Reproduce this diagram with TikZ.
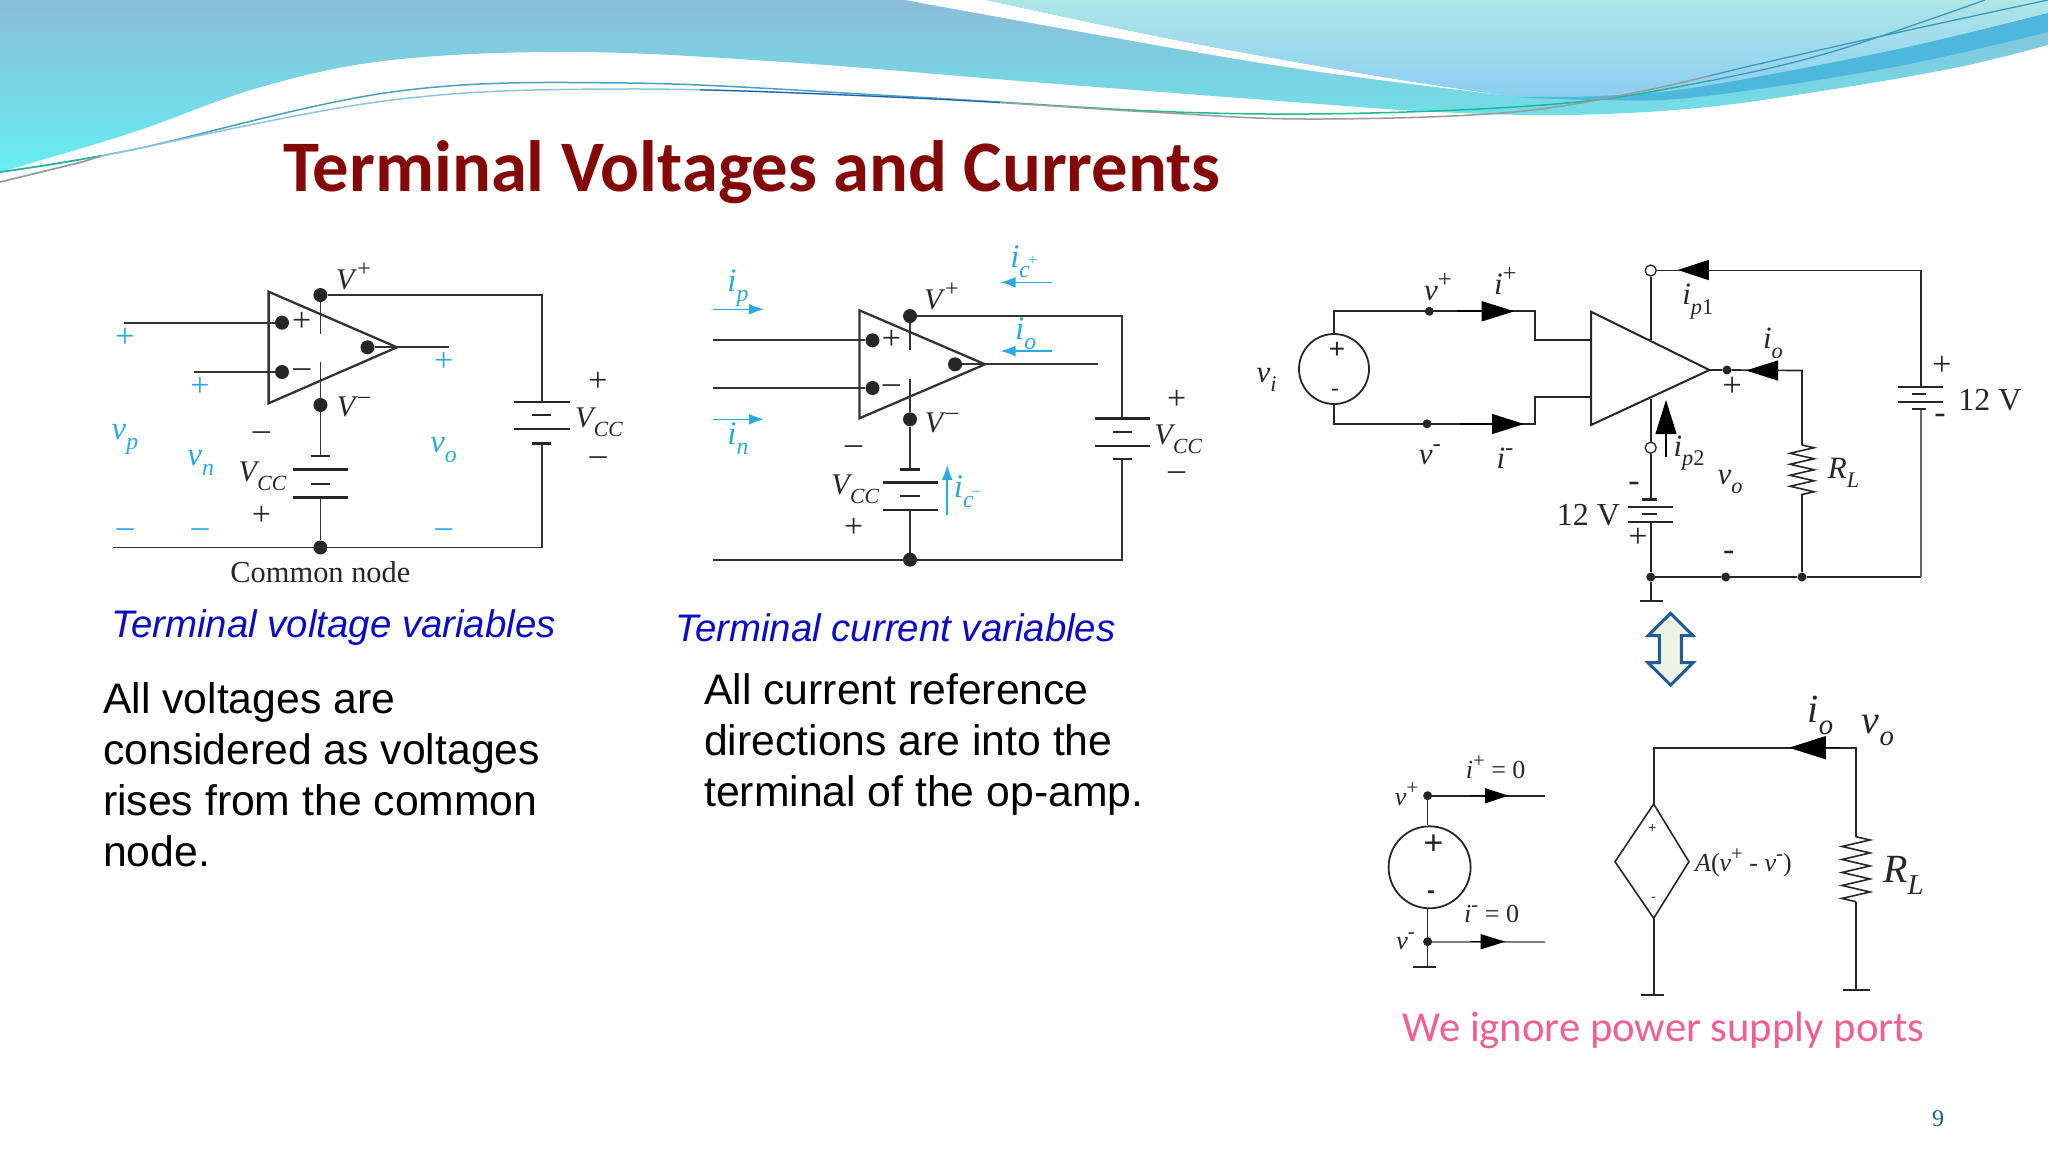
\documentclass[tikz,border=0pt]{standalone}
\usepackage{fontspec}
\usepackage{graphicx}
\usetikzlibrary{arrows.meta,decorations.pathmorphing}
\setmainfont{Liberation Serif}
\newfontfamily\arialf{Liberation Sans}
\newfontfamily\calib{Carlito}
\definecolor{wire}{HTML}{333333}
\definecolor{ablue}{HTML}{29ABE2}
\definecolor{titlered}{HTML}{850808}
\definecolor{capblue}{HTML}{0A0AC8}
\definecolor{pinktxt}{HTML}{F0608F}
\definecolor{bana}{HTML}{8ABDD8}
\definecolor{banb}{HTML}{66EEF0}
\definecolor{palea}{HTML}{AEE6E6}
\definecolor{paleb}{HTML}{8CCEF2}
\definecolor{bandc}{HTML}{4DB8DC}
\definecolor{lna}{HTML}{4A9FC0}
\definecolor{lnb}{HTML}{8CC4DC}
\definecolor{lnc}{HTML}{1E5FA8}
\definecolor{lnd}{HTML}{9A9A9A}
\definecolor{lne}{HTML}{1DB89A}
\definecolor{lnf}{HTML}{3A9AB5}
\definecolor{dblb}{HTML}{1F5C99}
\definecolor{dblf}{HTML}{EEF4E4}
\definecolor{pgc}{HTML}{1F6080}
\newcommand{\SB}[1]{\raisebox{-0.3em}{\scalebox{0.72}{#1}}}
\newcommand{\SP}[1]{\raisebox{0.42em}{\scalebox{0.8}{#1}}}
\newcommand{\Vcc}{\textit{V}\kern-.08em\SB{\textit{CC}}}
\newcommand{\lineA}{(0,172) (131,150) (392,92) (627,83) (914,97) (1176,112) (1371,113) (1567,103) (1698,83) (1828,53) (1985,0)}
\newcommand{\lineB}{(0,182) (78,163) (131,150) (392,100) (627,89) (914,98) (1150,112) (1306,119) (1502,113) (1633,93) (1763,63) (1900,32) (2048,0)}
\tikzset{
 wr/.style={draw=wire,line width=1.7pt},
 plate/.style={draw=black!85,line width=2.4pt},
 jdot/.style={circle,fill=black!85,inner sep=0pt,minimum size=14pt},
 sdot/.style={circle,fill=black!85,inner sep=0pt,minimum size=9pt},
 odot/.style={circle,draw=black!85,fill=white,line width=1.3pt,inner sep=0pt,minimum size=11pt},
 lab/.style={inner sep=0pt,font=\fontsize{30}{34}\selectfont,text=black!85},
 rlab/.style={inner sep=0pt,font=\fontsize{31}{34}\selectfont,text=black!85},
 blab/.style={inner sep=0pt,font=\fontsize{33}{36}\selectfont,text=ablue},
 sign/.style={inner sep=0pt,font=\fontsize{34}{36}\selectfont,text=black!85},
 bsign/.style={inner sep=0pt,font=\fontsize{34}{36}\selectfont,text=ablue},
 barrow/.style={draw=ablue,line width=1.6pt,-{Latex[length=15pt,width=11pt]}},
 barb/.style={draw=black,line width=1.4pt,-{Triangle[length=#1,width=20pt]}},
 barb/.default=32pt,
 rz/.style={draw=black!85,line width=1.6pt,decorate,decoration={zigzag,segment length=11pt,amplitude=12pt}},
 capt/.style={inner sep=0pt,anchor=west,text=capblue,font=\arialf\itshape\fontsize{38.4}{44}\selectfont},
 body/.style={inner sep=0pt,anchor=west,align=left,text=black,font=\arialf\fontsize{42.7}{51}\selectfont},
}
\begin{document}
\begin{tikzpicture}[x=1pt,y=-1pt]
\useasboundingbox (0,0) rectangle (2048,1152);
% ---------- banner ----------
\shade[top color=bana,bottom color=banb] (0,0) -- (2048,0) -- (2048,45)
  -- plot[smooth,tension=.6] coordinates {(2048,45) (1959,67) (1828,90) (1698,108) (1567,115) (1437,112) (1306,103) (1045,83) (784,62) (575,52) (392,60) (261,87) (131,133) (0,172)} -- cycle;
\fill[white] (905,0) -- plot[smooth,tension=.6] coordinates {(905,0) (1110,37) (1306,70) (1502,95)} -- plot[smooth,tension=.6] coordinates {(1502,95) (1371,75) (1176,40) (986,0)} -- cycle;
\shade[top color=palea,bottom color=paleb] (986,0) -- (2048,0) -- (2048,13) -- plot[smooth,tension=.6] coordinates {(2048,13) (1894,50) (1698,87) (1600,96) (1502,95)} -- plot[smooth,tension=.6] coordinates {(1502,95) (1371,75) (1176,40) (986,0)} -- cycle;
\fill[color=bandc] (2048,13) -- plot[smooth,tension=.6] coordinates {(2048,13) (1894,50) (1698,87) (1600,96) (1515,97)} -- plot[smooth,tension=.6] coordinates {(1515,97) (1600,100) (1698,97) (1894,67) (2048,32)} -- cycle;
\begin{scope}\clip (0,0) rectangle (1000,200);
\draw[color=lna,line width=1.5pt] plot[smooth,tension=.6] coordinates {\lineA};
\draw[color=lnb,line width=1.5pt] plot[smooth,tension=.6] coordinates {\lineB};
\end{scope}
\begin{scope}\clip (700,0) rectangle (1000,200);
\draw[color=lnc,line width=1.2pt] plot[smooth,tension=.6] coordinates {\lineB};
\end{scope}
\begin{scope}\clip (1000,0) rectangle (1710,200);
\draw[color=lne,line width=1.5pt] plot[smooth,tension=.6] coordinates {\lineA};
\draw[color=lnd,line width=1.5pt] plot[smooth,tension=.6] coordinates {\lineB};
\end{scope}
\begin{scope}\clip (1710,0) rectangle (2048,200);
\draw[color=lnf,line width=1.3pt] plot[smooth,tension=.6] coordinates {\lineA};
\draw[color=lnf,line width=1.3pt] plot[smooth,tension=.6] coordinates {\lineB};
\end{scope}
\begin{scope}\clip (0,150) rectangle (100,200);
\draw[color=lne,line width=1.5pt] plot[smooth,tension=.6] coordinates {\lineA};
\draw[color=lnd,line width=1.5pt] plot[smooth,tension=.6] coordinates {\lineB};
\end{scope}
% ---------- title ----------
\node[inner sep=0pt,anchor=west,text=titlered,font=\calib\bfseries\fontsize{72.6}{78}\selectfont] (title) at (283,172) {Terminal Voltages and Currents};
% ---------- left circuit ----------
\coordinate (la) at (268.6,291.7); \coordinate (lb) at (268.6,403.3); \coordinate (lc) at (397,347.3);
\draw[draw=wire,line width=2.3pt,line join=miter] (la) -- (lc) -- (lb) -- cycle;
\node[jdot] (lvp) at (320.4,295) {};
\node[jdot] (lvm) at (320.4,405) {};
\node[jdot] (lcom) at (320.4,547.5) {};
\node[jdot] (lip) at (282,322.7) {};
\node[jdot] (lin) at (282,372) {};
\node[jdot] (lout) at (367.5,347.3) {};
\coordinate (lwtr) at (541.8,295); \coordinate (lbt) at (541.8,401.7); \coordinate (lbb) at (541.8,443.3); \coordinate (lwbr) at (541.8,547.5);
\coordinate (lwbl) at (113,547.5); \coordinate (lipe) at (124,322.7); \coordinate (line) at (193.6,372); \coordinate (loe) at (449,347.3);
\coordinate (ls1) at (320.4,334.3); \coordinate (ls2) at (320.4,361.7); \coordinate (lv1) at (320.4,455.7); \coordinate (lv2) at (320.4,497.3);
\draw[wr] (lvp) -- (lwtr) -- (lbt);
\draw[wr] (lbb) -- (lwbr) -- (lwbl);
\draw[wr] (lipe) -- (lip);
\draw[wr] (line) -- (lin);
\draw[wr] (lout) -- (loe);
\draw[wr] (lvp) -- (ls1);
\draw[wr] (ls2) -- (lvm);
\draw[wr] (lvm) -- (lv1);
\draw[wr] (lv2) -- (lcom);
\draw[plate] (514,401.7) -- (570,401.7); \draw[plate] (532,415) -- (551,415); \draw[plate] (514,428.7) -- (570,428.7); \draw[plate] (532,443.3) -- (551,443.3);
\draw[plate] (310.7,455.7) -- (330.4,455.7); \draw[plate] (292.5,469.3) -- (348,469.3); \draw[plate] (310.7,484) -- (330.4,484); \draw[plate] (292.5,497.3) -- (348,497.3);
\node[sign] (l1) at (301.8,321.7) {+}; \node[sign] (l2) at (301.8,372.7) {–};
\node[lab] (l3) at (353.6,276.7) {\textit{V}\SP{+}};
\node[lab] (l4) at (353.6,406.7) {\textit{V}\SP{–}};
\node[sign] (l5) at (598,382.3) {+}; \node[lab] (l6) at (599,422.7) {\Vcc}; \node[sign] (l7) at (598,461) {–};
\node[sign] (l8) at (261.4,435.7) {–}; \node[lab] (l9) at (262.5,476.7) {\Vcc}; \node[sign] (l10) at (261.4,515.7) {+};
\node[lab,font=\fontsize{30.4}{33}\selectfont] (l11) at (320.4,571.7) {Common node};
\node[bsign] (l12) at (125,338.3) {+}; \node[bsign] (l13) at (200,387.3) {+}; \node[bsign] (l14) at (443.6,362.3) {+};
\node[blab] (l15) at (125,439) {\textit{v}\SB{\textit{p}}}; \node[blab] (l16) at (200.7,462.7) {\textit{v}\SB{\textit{n}}}; \node[blab] (l17) at (443.6,450) {\textit{v}\SB{\textit{o}}};
\node[bsign] (l18) at (125,532.7) {–}; \node[bsign] (l19) at (200,532.7) {–}; \node[bsign] (l20) at (443.6,532.7) {–};
% ---------- middle circuit ----------
\coordinate (ma) at (859.4,310.3); \coordinate (mb) at (859.4,418.3); \coordinate (mc) at (985,364.3);
\draw[draw=wire,line width=2.3pt,line join=miter] (ma) -- (mc) -- (mb) -- cycle;
\node[jdot] (mvp) at (910,316) {};
\node[jdot] (mvm) at (910,419.3) {};
\node[jdot] (mcom) at (910,559.7) {};
\node[jdot] (mip) at (872.5,340.3) {};
\node[jdot] (min) at (872.5,388) {};
\node[jdot] (mout) at (955,364.3) {};
\coordinate (mwtr) at (1122,316); \coordinate (mbt) at (1122,418.3); \coordinate (mbb) at (1122,459); \coordinate (mwbr) at (1122,559.7);
\coordinate (mwbl) at (713.4,559.7); \coordinate (mipe) at (713.4,340.3); \coordinate (mine) at (713.4,388); \coordinate (moe) at (1098,364.3);
\coordinate (ms1) at (910,350); \coordinate (ms2) at (910,378.7); \coordinate (mv1) at (910,469.3); \coordinate (mv2) at (910,509.7);
\draw[wr] (mvp) -- (mwtr) -- (mbt);
\draw[wr] (mbb) -- (mwbr) -- (mwbl);
\draw[wr] (mipe) -- (mip);
\draw[wr] (mine) -- (min);
\draw[wr] (mout) -- (moe);
\draw[wr] (mvp) -- (ms1);
\draw[wr] (ms2) -- (mvm);
\draw[wr] (mvm) -- (mv1);
\draw[wr] (mv2) -- (mcom);
\draw[plate] (1094.6,418.3) -- (1150.4,418.3); \draw[plate] (1112.9,431.7) -- (1131.8,431.7); \draw[plate] (1094.6,446) -- (1150.4,446); \draw[plate] (1112.9,459) -- (1131.8,459);
\draw[plate] (900,469.3) -- (919.7,469.3); \draw[plate] (883.2,482.3) -- (938,482.3); \draw[plate] (900,495.7) -- (919.7,495.7); \draw[plate] (883.2,509.7) -- (938,509.7);
\node[sign] (m1) at (891.4,340) {+}; \node[sign] (m2) at (891.4,389) {–};
\node[lab] (m3) at (941.4,296.7) {\textit{V}\SP{+}};
\node[lab] (m4) at (941.4,422.7) {\textit{V}\SP{–}};
\node[sign] (m5) at (1176.6,400) {+}; \node[lab] (m6) at (1178.3,439.3) {\Vcc}; \node[sign] (m7) at (1176.6,476) {–};
\node[sign] (m8) at (853.6,450) {–}; \node[lab] (m9) at (855.3,489.3) {\Vcc}; \node[sign] (m10) at (853.6,527.7) {+};
\coordinate (ar1a) at (713.4,309.3); \coordinate (ar1b) at (764,309.3);
\coordinate (ar2a) at (713.4,419.3); \coordinate (ar2b) at (764,419.3);
\coordinate (ar3a) at (1051.6,282.3); \coordinate (ar3b) at (1000.6,282.3);
\coordinate (ar4a) at (1051.6,351); \coordinate (ar4b) at (1000.6,351);
\coordinate (ar5a) at (947.2,515); \coordinate (ar5b) at (947.2,465);
\draw[barrow] (ar1a) -- (ar1b); \draw[barrow] (ar2a) -- (ar2b); \draw[barrow] (ar3a) -- (ar3b); \draw[barrow] (ar4a) -- (ar4b); \draw[barrow] (ar5a) -- (ar5b);
\node[blab] (m11) at (738,288.3) {\textit{i}\SB{\textit{p}}};
\node[blab] (m12) at (738,438.3) {\textit{i}\SB{\textit{n}}};
\node[blab] (m13) at (1024,261.7) {\textit{i}\SB{\textit{c}}\kern-.05em\raisebox{.05em}{\scalebox{.5}{+}}};
\node[blab] (m14) at (1025.7,333.3) {\textit{i}\SB{\textit{o}}};
\node[blab] (m15) at (967,491.7) {\textit{i}\SB{\textit{c}}\kern-.05em\raisebox{.05em}{\scalebox{.5}{–}}};
% ---------- captions and body ----------
\node[capt] (c1) at (111,628) {Terminal voltage variables};
\node[capt] (c2) at (675,628) {Terminal current variables};
\node[body] (b1) at (103,775) {All voltages are\\considered as voltages\\rises from the common\\node.};
\node[body] (b2) at (704,744.5) {All current reference\\directions are into the\\terminal of the op-amp.};
% ---------- right circuit ----------
\coordinate (ra) at (1591,311.7); \coordinate (rb) at (1591,425); \coordinate (rc) at (1709.5,370);
\draw[draw=black!85,line width=2pt,line join=miter] (ra) -- (rc) -- (rb) -- cycle;
\node[circle,draw=black!85,line width=1.8pt,inner sep=0pt,minimum size=70pt] (src) at (1334,369) {};
\node[sdot] (rvp) at (1429.3,311.3) {};
\node[sdot] (rvm) at (1427,423.8) {};
\coordinate (rtl) at (1334,311.3); \coordinate (rt1) at (1535,311.3); \coordinate (rt2) at (1535,340); \coordinate (rt3) at (1591,340);
\coordinate (rbl) at (1334,424); \coordinate (rb1) at (1535,424); \coordinate (rb2) at (1535,397.3); \coordinate (rb3) at (1591,397.3);
\draw[wr,draw=black!85] (src.north) -- (rtl) -- (rt1) -- (rt2) -- (rt3);
\draw[wr,draw=black!85] (src.south) -- (rbl) -- (rb1) -- (rb2) -- (rb3);
\coordinate (ai1a) at (1457,311.3); \coordinate (ai1b) at (1514.5,311.3);
\coordinate (ai2a) at (1460,424); \coordinate (ai2b) at (1524,424);
\draw[barb=33pt,line width=2.2pt] (ai1a) -- (ai1b);
\draw[barb=32pt] (ai2a) -- (ai2b);
\node[odot] (rtop) at (1650.7,270.5) {};
\node[odot] (rlow) at (1650.7,447.7) {};
\node[sdot] (rout) at (1727,370) {};
\node[sdot] (rg1) at (1650.7,577) {};
\node[sdot] (rg2) at (1725.7,577) {};
\node[sdot] (rg3) at (1802,577) {};
\coordinate (rtop2) at (1650.7,340); \coordinate (rlow2) at (1650.7,399.3);
\coordinate (rcr) at (1921,269.3); \coordinate (rbat1) at (1921,386.7); \coordinate (rbat2) at (1921,409); \coordinate (rcrb) at (1921,577);
\coordinate (rol) at (1802,370.5); \coordinate (rr1) at (1802,445); \coordinate (rr2) at (1802,498);
\coordinate (rbt) at (1650.7,499.3); \coordinate (rbb) at (1650.7,521.7); \coordinate (rgnd) at (1650.7,601);
\draw[wr,draw=black!85] (rtop) -- (rtop2);
\draw[wr,draw=black!85] (rlow2) -- (rlow);
\draw[wr,draw=black!85] (rlow) -- (rbt);
\draw[wr,draw=black!85] (rbb) -- (rg1);
\draw[wr,draw=black!85] (rg1) -- (rgnd);
\draw[wr,draw=black!85] (rtop) -- (rtop -| rcr) -- (rbat1);
\draw[wr,draw=black!85] (rc) -- (rout) -- (rol) -- (rr1);
\draw[rz] (rr1) -- (rr2);
\draw[wr,draw=black!85] (rr2) -- (rg3);
\draw[wr,draw=black!85] (rg1) -- (rg2) -- (rg3) -- (rcrb);
\draw[wr,draw=black!60] (rcrb) -- (rbat2);
\draw[plate,line width=1.8pt] (1639.5,601) -- (1662.5,601);
\coordinate (ai3a) at (1708,270); \coordinate (ai3b) at (1677.8,270);
\coordinate (ai4a) at (1778,370.5); \coordinate (ai4b) at (1746,370.5);
\coordinate (ai5a) at (1666,456.7); \coordinate (ai5b) at (1666,400);
\draw[barb=31pt] (ai3a) -- (ai3b);
\draw[barb=32pt] (ai4a) -- (ai4b);
\draw[draw=black,line width=1.2pt,-{Triangle[length=34pt,width=21pt]}] (ai5a) -- (ai5b);
\draw[plate] (1898,386.7) -- (1943,386.7); \draw[plate] (1912.4,394) -- (1926,394); \draw[plate] (1898,402) -- (1943,402); \draw[plate] (1912.4,409) -- (1926,409);
\draw[plate] (1642,499.3) -- (1657.3,499.3); \draw[plate] (1627.8,506.7) -- (1672.7,506.7); \draw[plate] (1642,514) -- (1657.3,514); \draw[plate] (1627.8,521.7) -- (1672.7,521.7);
\node[rlab] (r1) at (1266.5,380) {\textit{v}\SB{\textit{i}}};
\node[rlab] (r2) at (1438,286.7) {\textit{v}\SP{+}};
\node[rlab] (r3) at (1505.3,280.7) {\textit{i}\SP{+}};
\node[rlab] (r4) at (1429.8,455) {\textit{v}\SP{-}};
\node[rlab] (r5) at (1505,458.3) {\textit{i}\SP{-}};
\node[rlab] (r6) at (1697.7,301.7) {\textit{i}\SB{\textit{p}1}};
\node[rlab] (r7) at (1773,343.3) {\textit{i}\SB{\textit{o}}};
\node[sign] (r8) at (1732.3,387.3) {+};
\node[rlab] (r9) at (1689,453.3) {\textit{i}\SB{\textit{p}2}};
\node[rlab] (r10) at (1730,481.7) {\textit{v}\SB{\textit{o}}};
\node[rlab] (r11) at (1843.6,472.7) {\textit{R}\SB{\textit{L}}};
\node[sign] (r12) at (1942,366) {+};
\node[rlab,font=\fontsize{32}{34}\selectfont] (r13) at (1990,400) {12 V};
\node[sign] (r14) at (1940,419.3) {-};
\node[sign] (r15) at (1634,486.7) {-};
\node[rlab,font=\fontsize{32}{34}\selectfont] (r16) at (1588.5,515) {12 V};
\node[sign] (r17) at (1638,537.7) {+};
\node[sign] (r18) at (1728.8,556) {-};
\node[sign,font=\arialf\fontsize{28}{30}\selectfont] (r19) at (1337,350) {+};
\node[sign,font=\arialf\fontsize{24}{28}\selectfont] (r20) at (1335,392.7) {-};
% double arrow
\draw[draw=dblb,fill=dblf,line width=3pt,line join=miter] (1670.6,613.3) -- (1693,635.7) -- (1681.3,635.7) -- (1681.3,662.7) -- (1693,662.7) -- (1670.6,685) -- (1648,662.7) -- (1659.4,662.7) -- (1659.4,635.7) -- (1648,635.7) -- cycle;
% ---------- bottom circuit ----------
\node[sdot] (bvp) at (1427.6,795.7) {};
\node[sdot] (bvm) at (1427.6,941.7) {};
\node[circle,draw=black!85,line width=1.8pt,inner sep=0pt,minimum size=82pt] (bsrc) at (1429.6,867.3) {};
\coordinate (bpe) at (1545,795.7); \coordinate (bme) at (1545,941.7); \coordinate (bgn) at (1427.6,966.7);
\draw[wr,draw=black!85] (bvp) -- (bpe);
\draw[wr,draw=black!50,line width=2.2pt] (bvm) -- (bme);
\draw[wr,draw=black!85] (bvp) -- (bvp |- bsrc.north);
\draw[wr,draw=black!85] (bvm |- bsrc.south) -- (bvm);
\draw[wr,draw=black!85] (bvm) -- (bgn);
\draw[plate,line width=1.6pt] (1413.4,966.7) -- (1436.3,966.7);
\coordinate (ab1a) at (1470,795.7); \coordinate (ab1b) at (1508.2,795.7);
\coordinate (ab2a) at (1470,941.7); \coordinate (ab2b) at (1505.5,941.7);
\draw[draw=black,line width=1.4pt,-{Triangle[length=23pt,width=15pt]}] (ab1a) -- (ab1b);
\draw[draw=black,line width=1.4pt,-{Triangle[length=25pt,width=15pt]}] (ab2a) -- (ab2b);
\coordinate (dt) at (1653.7,804); \coordinate (dr) at (1688.9,861.7); \coordinate (db) at (1653.7,918.3); \coordinate (dl) at (1615,861.7);
\draw[draw=black!85,line width=1.6pt] (dt) -- (dr) -- (db) -- (dl) -- cycle;
\coordinate (bc1) at (1653.7,747.7); \coordinate (bc2) at (1856,747.7); \coordinate (br1) at (1856,836.7); \coordinate (br2) at (1856,901.7); \coordinate (bg2) at (1856,990); \coordinate (bg1) at (1653.7,995);
\draw[wr,draw=black!85] (dt) -- (bc1) -- (bc2) -- (br1);
\draw[rz,decoration={zigzag,segment length=13pt,amplitude=14pt}] (br1) -- (br2);
\draw[wr,draw=black!85] (br2) -- (bg2);
\draw[wr,draw=black!85] (db) -- (bg1);
\draw[plate,line width=1.8pt] (1843.4,990) -- (1870,990);
\draw[plate,line width=1.6pt] (1640.6,995) -- (1663.6,995);
\coordinate (ab3a) at (1840,747.7); \coordinate (ab3b) at (1788.8,747.7);
\draw[draw=black,line width=1.4pt,-{Triangle[length=37pt,width=23pt]}] (ab3a) -- (ab3b);
\node[sign,font=\arialf\fontsize{34}{36}\selectfont] (d1) at (1433.5,845) {+};
\node[sign,font=\arialf\bfseries\fontsize{24}{28}\selectfont] (d2) at (1431,895) {-};
\node[rlab,font=\fontsize{26}{28}\selectfont] (d3) at (1495.6,767.3) {\textit{i}\SP{+} = 0};
\node[rlab,font=\fontsize{26}{28}\selectfont] (d4) at (1491.6,914.3) {\textit{i}\SP{-} = 0};
\node[rlab,font=\fontsize{26}{28}\selectfont] (d5) at (1406.6,794) {\textit{v}\SP{+}};
\node[rlab,font=\fontsize{26}{28}\selectfont] (d6) at (1405.5,941.7) {\textit{v}\SP{-}};
\node[rlab,font=\fontsize{40}{42}\selectfont] (d7) at (1820.5,715) {\textit{i}\SB{\textit{o}}};
\node[rlab,font=\fontsize{40}{42}\selectfont] (d8) at (1877.8,730) {\textit{v}\SB{\textit{o}}};
\node[rlab,font=\fontsize{40}{42}\selectfont] (d9) at (1903.5,875) {\textit{R}\SB{\textit{L}}};
\node[rlab,font=\fontsize{26}{28}\selectfont] (d10) at (1743.4,863.3) {\textit{A}(\textit{v}\SP{+} - \textit{v}\SP{-})};
\node[sign,font=\arialf\fontsize{14}{16}\selectfont] (d11) at (1652.5,828.3) {+};
\node[sign,font=\arialf\fontsize{14}{16}\selectfont] (d12) at (1653.7,899.3) {-};
\node[inner sep=0pt,text=pinktxt,font=\calib\fontsize{42.7}{48}\selectfont] (pk) at (1663.6,1030) {We ignore power supply ports};
\node[inner sep=0pt,text=pgc,font=\fontsize{24}{26}\selectfont] (pg) at (1938,1119) {9};
\end{tikzpicture}
\end{document}
